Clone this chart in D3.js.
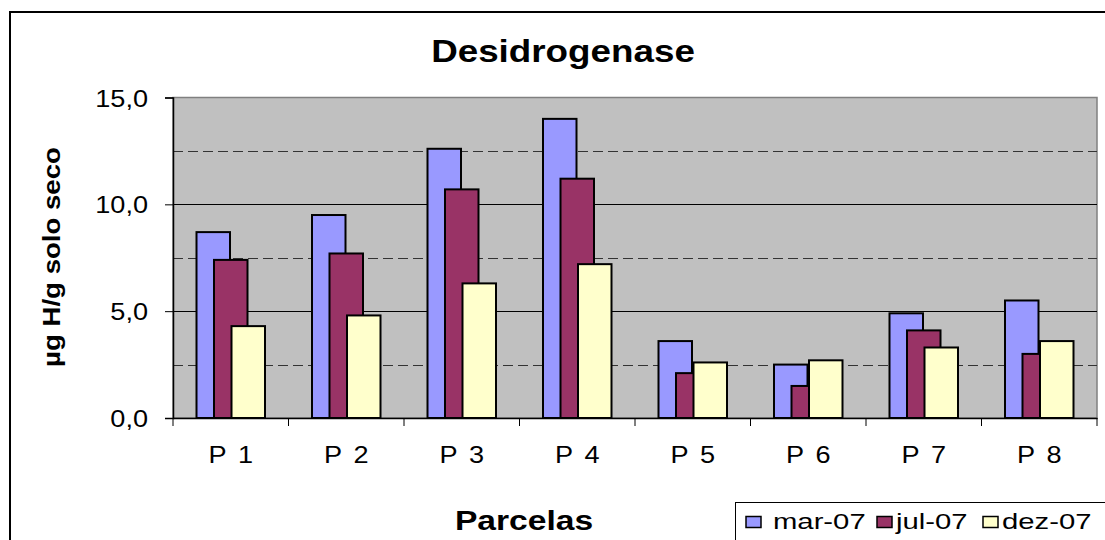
<!DOCTYPE html>
<html>
<head>
<meta charset="utf-8">
<script src="https://cdn.jsdelivr.net/npm/d3@7"></script>
<style>
  body { margin: 0; background: #fff; }
  text { font-family: "Liberation Sans", Arial, sans-serif; fill: #000; }
</style>
</head>
<body>
<div id="chart"></div>
<script>
// Data
const categories = ["P 1", "P 2", "P 3", "P 4", "P 5", "P 6", "P 7", "P 8"];
const seriesNames = ["mar-07", "jul-07", "dez-07"];
const mar07 = [8.7, 9.5, 12.6, 14.0, 3.6, 2.5, 4.9, 5.5];
const jul07 = [7.4, 7.7, 10.7, 11.2, 2.1, 1.5, 4.1, 3.0];
const dez07 = [4.3, 4.8, 6.3, 7.2, 2.6, 2.7, 3.3, 3.6];
const majorTicks = [0, 5, 10, 15];
const minorTicks = [2.5, 7.5, 12.5];

const seriesValues = [mar07, jul07, dez07];
const colors = ["#9999FF", "#993366", "#FFFFCC"];

const W = 1105, H = 540;
const plot = {left: 173, right: 1097, top: 97.5, bottom: 418};

const svg = d3.select("#chart").append("svg")
  .attr("width", W)
  .attr("height", H);

// text drawn a bit wider than the font, like the original picture
function stretched(g, x, y, str, size, sx, anchor, weight) {
  return g.append("text")
    .attr("transform", `translate(${x},${y}) scale(${sx},1)`)
    .attr("text-anchor", anchor || "middle")
    .style("font-size", size + "px")
    .style("font-weight", weight || "normal")
    .text(str);
}

// chart area border (runs off the right and bottom edge)
svg.append("rect")
  .attr("x", 10).attr("y", 12)
  .attr("width", 1120).attr("height", 560)
  .attr("fill", "#fff")
  .attr("stroke", "#000")
  .attr("stroke-width", 2);

const x = d3.scaleBand()
  .domain(categories)
  .range([plot.left, plot.right])
  .padding(0);

const y = d3.scaleLinear()
  .domain([0, 15])
  .range([plot.bottom, plot.top]);

// plot area
svg.append("rect")
  .attr("x", plot.left).attr("y", plot.top)
  .attr("width", plot.right - plot.left)
  .attr("height", plot.bottom - plot.top)
  .attr("fill", "#C0C0C0")
  .attr("stroke", "#808080")
  .attr("stroke-width", 1.5);

// gridlines
svg.append("g").selectAll("line")
  .data(minorTicks)
  .join("line")
  .attr("x1", plot.left).attr("x2", plot.right)
  .attr("y1", d => Math.round(y(d)) + 0.5)
  .attr("y2", d => Math.round(y(d)) + 0.5)
  .attr("stroke", "#333")
  .attr("stroke-dasharray", "10,5");

svg.append("g").selectAll("line")
  .data(majorTicks.filter(d => d > 0 && d < 15))
  .join("line")
  .attr("x1", plot.left).attr("x2", plot.right)
  .attr("y1", d => Math.round(y(d)) + 0.5)
  .attr("y2", d => Math.round(y(d)) + 0.5)
  .attr("stroke", "#000");

// bars: 3 series overlapping by half a bar
const barW = 33.5;
const step = 17.5;
const groupW = barW + step * (seriesNames.length - 1);

seriesValues.forEach((vals, s) => {
  svg.append("g").selectAll("rect")
    .data(vals)
    .join("rect")
    .attr("x", (d, i) => x(categories[i]) + x.bandwidth() / 2 - groupW / 2 + s * step)
    .attr("y", d => y(d))
    .attr("width", barW)
    .attr("height", d => y(0) - y(d))
    .attr("fill", colors[s])
    .attr("stroke", "#000")
    .attr("stroke-width", 2);
});

// y axis
const fmt = d3.formatLocale({decimal: ",", thousands: ".", grouping: [3], currency: ["", ""]}).format(".1f");
const yAxis = svg.append("g")
  .attr("transform", `translate(${plot.left},0)`)
  .call(d3.axisLeft(y).tickValues(majorTicks).tickSize(8).tickFormat(fmt));
yAxis.select(".domain").attr("stroke", "#000").attr("stroke-width", 1.5);
yAxis.selectAll(".tick line").attr("stroke", "#000");
yAxis.selectAll(".tick text")
  .attr("x", null).attr("dy", "0.36em")
  .attr("transform", "translate(-25,0) scale(1.13,1)")
  .style("font-size", "24px")
  .attr("fill", "#000");

// x axis
const xAxis = svg.append("g")
  .attr("transform", `translate(0,${plot.bottom})`)
  .call(d3.axisBottom(x).tickSize(0).tickPadding(0));
xAxis.select(".domain").attr("stroke", "#000").attr("stroke-width", 1.5);
xAxis.selectAll(".tick text")
  .attr("y", null).attr("dy", null)
  .attr("transform", "translate(0,44.5) scale(1.13,1)")
  .style("font-size", "24px")
  .style("word-spacing", "4px")
  .attr("fill", "#000");
xAxis.selectAll(".boundary")
  .data(d3.range(categories.length + 1))
  .join("line")
  .attr("class", "boundary")
  .attr("x1", i => plot.left + i * x.step())
  .attr("x2", i => plot.left + i * x.step())
  .attr("y1", 0).attr("y2", 8)
  .attr("stroke", "#000");

// titles
stretched(svg, 563, 62, "Desidrogenase", 32, 1.15, "middle", "bold");
stretched(svg, 524, 530, "Parcelas", 28, 1.2, "middle", "bold");
svg.append("text")
  .attr("transform", `translate(60,257) rotate(-90) scale(1.15,1)`)
  .attr("text-anchor", "middle")
  .style("font-size", "24px")
  .style("font-weight", "bold")
  .text("µg H/g solo seco");

// legend
const legend = svg.append("g");
legend.append("rect")
  .attr("x", 735.5).attr("y", 502.5)
  .attr("width", 400).attr("height", 60)
  .attr("fill", "#fff")
  .attr("stroke", "#000");

const legendSwatchX = [746, 877, 983];
const legendTextX = [773, 896, 1002];
seriesNames.forEach((name, s) => {
  legend.append("rect")
    .attr("x", legendSwatchX[s]).attr("y", 516.5)
    .attr("width", 15).attr("height", 11)
    .attr("fill", colors[s])
    .attr("stroke", "#000")
    .attr("stroke-width", 1.5);
  stretched(legend, legendTextX[s], 528.5, name, 22, 1.33, "start");
});
</script>
</body>
</html>
